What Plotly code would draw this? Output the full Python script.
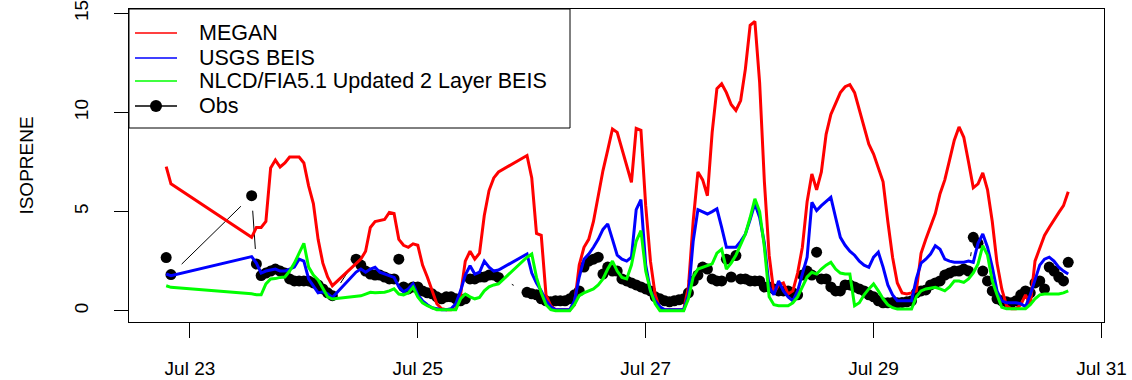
import pandas as pd
import plotly.graph_objects as go

# ---------------- data (hours after 2011-07-22 00:00) ----------------
BASE = pd.Timestamp("2011-07-22 00:00")
hours = [19, 20] + list(range(37, 55)) + list(range(59, 90)) + list(range(95, 210))

megan = [7.27, 6.4,
         3.7, 4.2, 4.2, 4.5, 7.2, 7.6, 7.25, 7.45, 7.75, 7.75, 7.75, 7.45, 6.3, 5.4, 3.6, 2.4, 1.7, 1.26,
         2.36, 2.6, 3.0, 4.2, 4.5, 4.55, 4.6, 4.96, 4.9, 3.6, 3.3, 3.2, 3.37, 3.3, 2.3, 1.7, 1.0, 0.35, 0.1, 0.05,
         0.05, 0.1, 0.8, 2.5, 3.0, 2.6, 2.9, 4.8, 6.06, 6.7, 7.0,
         7.83, 6.7, 3.9, 3.8, 0.8, 0.25, 0.05, 0.05, 0.05, 0.05,
         0.3, 2.3, 3.2, 3.6, 4.5, 5.8, 7.07, 8.1, 9.17, 9.0,
         8.2, 7.4, 6.48, 9.2, 9.1, 5.3, 2.5, 0.8, 0.1, 0.05,
         0.05, 0.05, 0.05, 0.05, 1.2, 4.5, 7.0, 6.6, 5.8, 9.0,
         11.2, 11.45, 11.0, 10.4, 10.1, 10.6, 12.2, 14.4, 14.6, 11.5,
         6.5, 2.8, 0.9, 1.3, 1.4, 0.84, 1.0, 1.9, 3.2, 5.5,
         6.9, 6.1, 7.0, 8.9, 9.9, 10.5, 11.0, 11.3, 11.4, 11.0,
         10.1, 9.2, 8.4, 7.9, 7.2, 6.5, 4.5, 2.7, 1.4, 0.9,
         0.84, 0.9, 1.0, 2.9, 3.6, 4.2, 4.9, 5.9, 6.6, 7.6,
         8.6, 9.27, 8.75, 7.5, 6.2, 6.4, 6.95, 6.1, 4.5, 2.4,
         1.1, 0.25, 0.1, 0.1, 0.3, 0.8, 0.3, 2.5, 3.1, 3.8,
         4.2, 4.6, 4.95, 5.3, 6.0]

usgs = [1.85, 1.77,
        2.73, 2.4, 1.9, 2.0, 2.05, 2.1, 2.0, 2.0, 2.1, 2.2, 2.6, 2.5, 1.6, 1.25, 0.9, 0.95, 0.85, 0.67,
        1.95, 2.1, 1.94, 2.1, 2.19, 1.94, 1.85, 1.8, 1.68, 1.2, 0.95, 1.1, 1.35, 0.8, 0.5, 0.3, 0.15, 0.1, 0.05, 0.05,
        0.1, 0.35, 1.0, 1.8, 2.27, 1.85, 1.94, 2.5, 2.2, 2.0, 2.05,
        2.86, 1.9, 1.4, 1.0, 0.5, 0.2, 0.05, 0.05, 0.05, 0.05,
        0.5, 1.7, 2.6, 2.86, 3.2, 3.6, 4.1, 4.38, 3.6, 2.8,
        2.6, 2.5, 2.7, 5.1, 5.6, 2.3, 1.0, 0.5, 0.2, 0.05,
        0.05, 0.05, 0.05, 0.05, 0.8, 3.5, 5.1, 5.0, 4.88, 5.0,
        5.14, 4.2, 3.2, 3.2, 3.2, 3.5, 3.87, 4.6, 5.4, 4.7,
        3.4, 1.2, 0.8, 1.5, 1.0, 0.7, 0.5, 1.0, 1.9, 2.7,
        5.47, 5.05, 5.3, 5.5, 5.72, 4.7, 3.7, 3.3, 3.0, 2.8,
        2.5, 2.3, 2.19, 2.7, 2.95, 2.2, 1.3, 0.8, 0.5, 0.5,
        0.5, 0.5, 1.6, 2.4, 2.6, 2.86, 3.28, 3.1, 2.6, 2.5,
        2.45, 2.44, 2.45, 2.5, 2.44, 3.4, 3.87, 3.2, 2.2, 1.0,
        0.5, 0.4, 0.4, 0.4, 0.35, 0.2, 0.8, 1.6, 2.3, 2.6,
        2.7, 2.5, 2.2, 2.0, 1.85]

nlcd = [1.26, 1.18,
        0.85, 0.8, 0.8, 1.35, 1.6, 1.62, 1.68, 1.7, 2.0, 2.4, 2.9, 3.4, 2.2, 1.8, 1.55, 1.1, 0.7, 0.59,
        0.7, 0.75, 0.84, 0.93, 0.9, 0.9, 0.93, 1.0, 1.1, 0.84, 0.8, 0.9, 1.18, 0.7, 0.4, 0.25, 0.15, 0.05, 0.05, 0.05,
        0.05, 0.05, 0.6, 0.84, 0.7, 0.6, 0.67, 1.0, 1.2, 1.3, 1.35,
        2.7, 2.86, 1.68, 0.9, 0.3, 0.05, 0.0, 0.0, 0.0, 0.0,
        0.3, 0.76, 0.9, 1.0, 1.1, 1.3, 1.6, 2.1, 2.5, 2.0,
        1.68, 1.6, 2.3, 3.5, 4.04, 2.0, 1.0, 0.35, 0.0, 0.0,
        0.0, 0.0, 0.0, 0.0, 0.6, 1.7, 2.1, 2.2, 2.3, 2.36,
        2.9, 3.1, 2.1, 2.4, 2.8, 3.3, 3.87, 4.7, 5.64, 5.0,
        3.2, 0.7, 0.3, 0.25, 0.25, 0.25, 0.4, 0.7, 1.2, 1.7,
        1.94, 1.85, 2.1, 2.3, 2.44, 2.1, 1.9, 1.85, 1.85, 0.25,
        0.4, 0.8, 1.1, 1.35, 1.0, 0.6, 0.3, 0.15, 0.08, 0.08,
        0.08, 0.08, 0.7, 1.0, 1.1, 1.15, 1.18, 1.1, 1.0, 1.2,
        1.5, 1.5, 1.43, 1.6, 1.9, 2.36, 3.28, 2.8, 1.5, 0.8,
        0.17, 0.1, 0.1, 0.1, 0.1, 0.1, 0.3, 0.6, 0.8, 0.84,
        0.84, 0.84, 0.84, 0.9, 1.0]

obs = [2.68, 1.82,
       5.8, 2.36, 1.77, 1.9, 2.0, 2.1, 2.0, 1.9, 1.6, 1.5, 1.5, 1.5, 1.5, 1.4, 1.3, 1.1, 0.9, 0.76,
       2.6, 2.3, 2.0, 1.85, 1.8, 1.8, 1.7, 1.6, 1.6, 2.6, 1.2, 1.1, 1.2, 1.2, 1.0, 0.9, 0.85, 0.7, 0.6, 0.7,
       0.7, 0.6, 0.5, 0.6, 1.6, 1.6, 1.7, 1.7, 1.8, 1.8, 1.68,
       0.93, 0.85, 0.8, 0.6, 0.5, 0.45, 0.5, 0.5, 0.5, 0.6,
       0.8, 1.0, 2.2, 2.5, 2.6, 2.7, 1.85, 2.2, 2.0, 2.0,
       1.6, 1.5, 1.4, 1.3, 1.2, 1.1, 1.0, 0.7, 0.6, 0.5,
       0.45, 0.5, 0.55, 0.6, 0.9, 1.5, 1.8, 2.2, 2.1, 1.6,
       1.5, 1.5, 2.6, 1.7, 2.78, 1.6, 1.6, 1.5, 1.5, 1.5,
       1.2, 1.2, 1.1, 1.0, 1.0, 1.0, 0.9, 0.8, 1.8, 2.0,
       1.8, 2.95, 1.6, 1.6, 1.2, 1.0, 1.0, 1.3, 1.3, 1.2,
       1.1, 1.0, 0.8, 0.7, 0.5, 0.4, 0.4, 0.42, 0.4, 0.42,
       0.45, 0.5, 0.9, 1.0, 1.05, 1.3, 1.4, 1.5, 1.8, 1.9,
       2.0, 2.0, 2.1, 2.0, 3.7, 3.4, 2.0, 1.5, 1.0, 0.6,
       0.5, 0.45, 0.4, 0.5, 0.8, 1.0, 0.9, 1.4, 1.5, 1.1,
       2.2, 2.0, 1.7, 1.5, 2.44]

series_names = ["MEGAN", "USGS BEIS", "NLCD/FIA5.1 Updated 2 Layer BEIS", "Obs"]
series_colors = ["#ff0000", "#0000ff", "#00ff00", "#000000"]
y_ticks = [0, 5, 10, 15]

# ---------------- geometry ----------------
FONT = "Liberation Sans, Arial, Helvetica, sans-serif"
W, H = 1132, 380
L, R, T, B = 129, 28, 9, 58
pw, ph = W - L - R, H - T - B
X0, X1 = pd.Timestamp("2011-07-22 11:10:00"), pd.Timestamp("2011-07-31 00:32:00")
Y0, Y1 = -0.57, 15.22

times = [BASE + pd.Timedelta(hours=h) for h in hours]

# R type="b": obs joined by thin lines that stop short of each point
sx = pw / ((X1 - X0).total_seconds() / 3600.0)
sy = ph / (Y1 - Y0)
GAP = 15.0
seg_x, seg_y = [], []
for h1, v1, h2, v2 in zip(hours[:-1], obs[:-1], hours[1:], obs[1:]):
    dx, dy = (h2 - h1) * sx, (v2 - v1) * sy
    d = (dx * dx + dy * dy) ** 0.5
    if d > 2 * GAP:
        for f in (GAP / d, 1 - GAP / d):
            seg_x.append(BASE + pd.Timedelta(hours=h1 + f * (h2 - h1)))
            seg_y.append(v1 + f * (v2 - v1))
        seg_x.append(None)
        seg_y.append(None)

fig = go.Figure()
fig.add_trace(go.Scatter(x=seg_x, y=seg_y, mode="lines", connectgaps=False,
                         line=dict(color="black", width=1), showlegend=False, hoverinfo="skip"))
fig.add_trace(go.Scatter(x=times, y=obs, name=series_names[3], mode="markers",
                         marker=dict(color=series_colors[3], size=11), showlegend=False))
for vals, name, col in zip([megan, usgs, nlcd], series_names[:3], series_colors[:3]):
    fig.add_trace(go.Scatter(x=times, y=vals, name=name, mode="lines",
                             line=dict(color=col, width=3), showlegend=False))


def px(xp):
    return (xp - L) / pw


def py(yp):
    return (H - B - yp) / ph


shapes = [dict(type="rect", xref="paper", yref="paper", x0=0, x1=px(570), y0=py(128), y1=1,
               line=dict(color="black", width=1), fillcolor="white", layer="above")]
annotations = []
leg_y = [33, 58, 81, 106]
for name, col, yy in zip(series_names, series_colors, leg_y):
    shapes.append(dict(type="line", xref="paper", yref="paper", x0=px(135), x1=px(177),
                       y0=py(yy), y1=py(yy), line=dict(color=col, width=1.3), layer="above"))
    annotations.append(dict(text=name, xref="paper", yref="paper", x=px(197), y=py(yy),
                            xanchor="left", yanchor="middle", showarrow=False,
                            font=dict(family=FONT, size=21.5, color="black")))
shapes.append(dict(type="circle", xref="paper", yref="paper", xsizemode="pixel", ysizemode="pixel",
                   xanchor=px(156), yanchor=py(106), x0=-6, x1=6, y0=-6, y1=6,
                   fillcolor="black", line=dict(color="black", width=0), layer="above"))

fig.update_layout(
    width=W, height=H,
    margin=dict(l=L, r=R, t=T, b=B, autoexpand=False),
    paper_bgcolor="white", plot_bgcolor="white",
    font=dict(family=FONT, size=19, color="black"),
    showlegend=False,
    shapes=shapes, annotations=annotations,
)
fig.update_xaxes(
    type="date", automargin=False, ticklabeloverflow="allow",
    range=[X0.strftime("%Y-%m-%d %H:%M:%S"), X1.strftime("%Y-%m-%d %H:%M:%S")],
    tick0="2011-07-23", dtick=2 * 86400000, tickformat="%b %d",
    ticks="outside", ticklen=15, tickwidth=1, tickcolor="black",
    showline=True, linecolor="black", linewidth=1, mirror=True,
    showgrid=False, zeroline=False, ticklabelstandoff=14,
    tickfont=dict(family=FONT, size=19, color="black"),
)
fig.update_yaxes(
    automargin=False, ticklabeloverflow="allow",
    range=[Y0, Y1], tickvals=y_ticks, ticktext=[str(v) for v in y_ticks],
    ticks="outside", ticklen=14, tickwidth=1, tickcolor="black", tickangle=-90,
    showline=True, linecolor="black", linewidth=1, mirror=True,
    showgrid=False, zeroline=False, ticklabelstandoff=18,
    tickfont=dict(family=FONT, size=19, color="black"),
    title=dict(text="ISOPRENE", standoff=32, font=dict(family=FONT, size=19, color="black")),
)

fig.write_html("out.html")
